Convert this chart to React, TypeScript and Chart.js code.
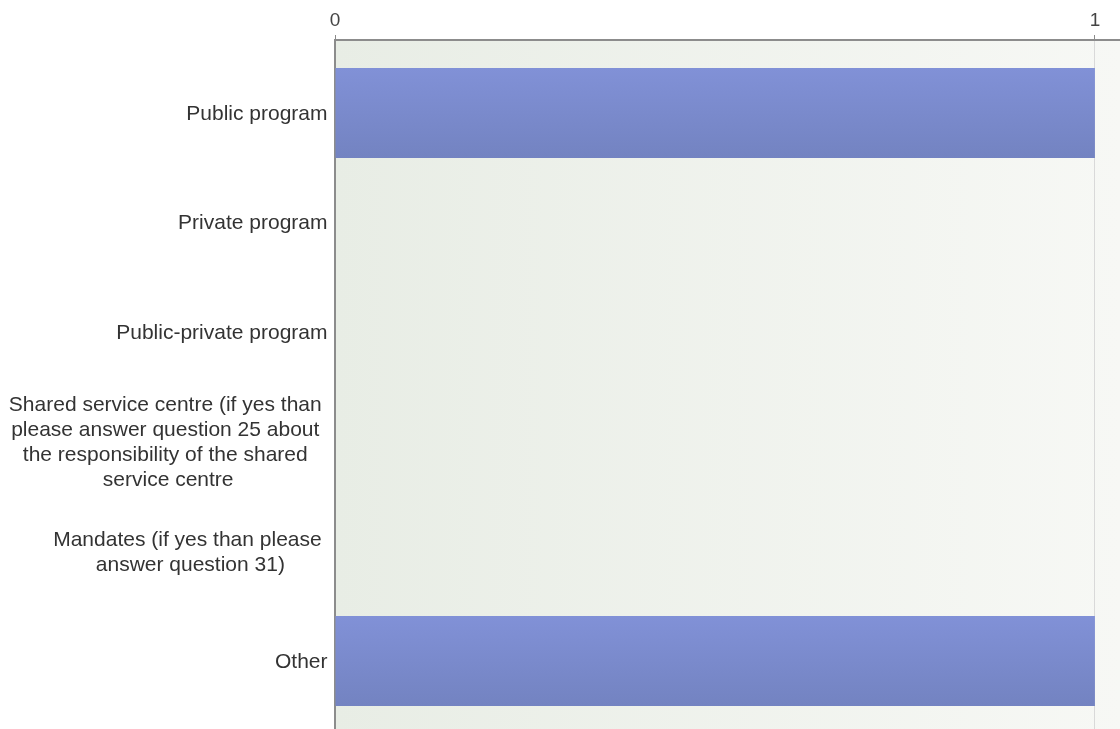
import React, { useEffect, useRef } from "react";
import { Chart, registerables } from "chart.js";

Chart.register(...registerables);

// ---- data ----
const categories: string[][] = [
  ["Public program"],
  ["Private program"],
  ["Public-private program"],
  [
    "Shared service centre (if yes than ",
    "please answer question 25 about ",
    "the responsibility of the shared ",
    "service centre",
  ],
  ["Mandates (if yes than please ", "answer question 31)"],
  ["Other"],
];
const values: number[] = [1, 0, 0, 0, 0, 1];
const xTickValues: number[] = [0, 1];

const LABEL_FONT = '21px "Liberation Sans", Arial, sans-serif';
const LINE_H = 25;

const bgPlugin = {
  id: "plotBg",
  beforeDraw(chart: any) {
    const { ctx, chartArea } = chart;
    if (!chartArea) return;
    const g = ctx.createLinearGradient(chartArea.left, 0, chartArea.right, 0);
    g.addColorStop(0, "#e8ede5");
    g.addColorStop(1, "#f7f8f5");
    ctx.save();
    ctx.fillStyle = g;
    ctx.fillRect(chartArea.left, chartArea.top, chartArea.right - chartArea.left, chartArea.bottom - chartArea.top);
    ctx.restore();
  },
};

const labelPlugin = {
  id: "catLabels",
  afterDraw(chart: any) {
    const { ctx, chartArea } = chart;
    const yScale = chart.scales.y;
    if (!chartArea || !yScale) return;
    ctx.save();
    ctx.font = LABEL_FONT;
    ctx.fillStyle = "#333333";
    ctx.textAlign = "center";
    ctx.textBaseline = "middle";
    const right = chartArea.left - 7.5;
    categories.forEach((lines, i) => {
      const cy = yScale.getPixelForValue(i);
      const w = Math.max(...lines.map((l) => ctx.measureText(l).width));
      const cx = right - w / 2;
      const n = lines.length;
      lines.forEach((l, j) => {
        if (l) ctx.fillText(l, cx, cy + 1 + (j - (n - 1) / 2) * LINE_H);
      });
    });
    ctx.restore();
  },
};

export default function App() {
  const ref = useRef<HTMLCanvasElement | null>(null);

  useEffect(() => {
    document.body.style.margin = "0";
    const canvas = ref.current;
    if (!canvas) return;
    const chart = new Chart(canvas, {
      type: "bar",
      data: {
        datasets: [
          {
            data: values.map((v, i) => ({ x: v, y: i })) as any,
            backgroundColor: (ctx: any) => {
              const c = ctx.chart;
              const ys = c.scales && c.scales.y;
              if (!c.chartArea || !ys) return "#7b8acc";
              const cy = ys.getPixelForValue(ctx.dataIndex);
              const g = c.ctx.createLinearGradient(0, cy - 45, 0, cy + 45);
              g.addColorStop(0, "#8191d7");
              g.addColorStop(1, "#7383c1");
              return g;
            },
            borderWidth: 0,
            barPercentage: 0.82,
            categoryPercentage: 1,
          },
        ],
      },
      options: {
        indexAxis: "y",
        animation: false,
        responsive: false,
        devicePixelRatio: 1,
        layout: { padding: 0 },
        plugins: {
          legend: { display: false },
          tooltip: { enabled: false },
        },
        scales: {
          x: {
            type: "linear",
            position: "top",
            min: 0,
            max: 1.033,
            offset: false,
            afterBuildTicks: (s: any) => {
              s.ticks = xTickValues.map((v) => ({ value: v }));
            },
            afterFit: (s: any) => {
              s.height = 40;
            },
            grid: {
              color: "#d9d9d9",
              lineWidth: 1,
              tickLength: 5,
              tickColor: "#8a8a8a",
            },
            border: { display: true, color: "#8c8c8c", width: 2 },
            ticks: {
              color: "#444444",
              font: { family: '"Liberation Sans", Arial, sans-serif', size: 19 },
              padding: 3,
            },
          },
          y: {
            type: "linear",
            reverse: true,
            offset: false,
            min: -0.666,
            max: 5.62,
            afterBuildTicks: (s: any) => {
              s.ticks = categories.map((_, i) => ({ value: i }));
            },
            afterFit: (s: any) => {
              s.width = 335;
            },
            grid: { display: false, offset: false },
            border: { display: true, color: "#8c8c8c", width: 2 },
            ticks: { display: false },
          },
        },
      } as any,
      plugins: [bgPlugin, labelPlugin],
    });
    return () => chart.destroy();
  }, []);

  return (
    <div style={{ width: 1120, height: 729 }}>
      <canvas ref={ref} width={1120} height={729} style={{ display: "block" }} />
    </div>
  );
}
